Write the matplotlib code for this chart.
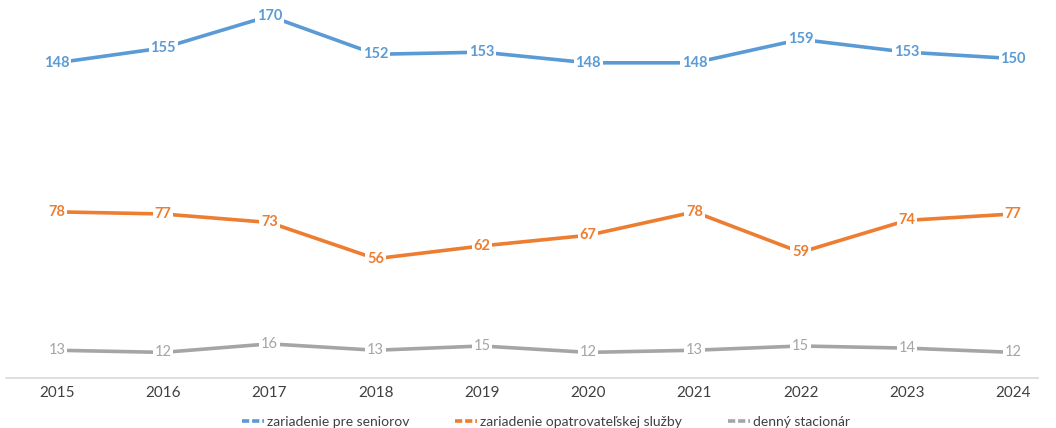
import matplotlib.pyplot as plt
from matplotlib.lines import Line2D

plt.rcParams['font.family'] = ['Lato', 'DejaVu Sans']

years = ['2015', '2016', '2017', '2018', '2019', '2020', '2021', '2022', '2023', '2024']
seniori = [148, 155, 170, 152, 153, 148, 148, 159, 153, 150]
opatrovatelske = [78, 77, 73, 56, 62, 67, 78, 59, 74, 77]
stacionar = [13, 12, 16, 13, 15, 12, 13, 15, 14, 12]

series = [
    ('zariadenie pre seniorov', seniori, '#5b9bd5', 'bold'),
    ('zariadenie opatrovateľskej služby', opatrovatelske, '#ed7d31', 'bold'),
    ('denný stacionár', stacionar, '#a5a5a5', 'normal'),
]

fig = plt.figure(figsize=(10.56, 4.28), dpi=100)
ax = fig.add_axes([6 / 1056, 0.117, 1032 / 1056, 0.883])

x = list(range(len(years)))
handles = []
for name, vals, color, weight in series:
    ax.plot(x, vals, color=color, linewidth=2.6, solid_capstyle='round', zorder=2)
    for xi, v in zip(x, vals):
        ax.text(xi, v, str(v), ha='center', va='center', fontsize=10.5,
                color=color, fontweight=weight, zorder=3,
                bbox=dict(boxstyle='square,pad=0.12', fc='white', ec='none'))
    handles.append(Line2D([0], [0], color=color, linewidth=2.6, linestyle=(0, (2.0, 0.8))))

ax.set_xlim(-0.48, 9.235)
ax.set_ylim(0, 177.5)
ax.set_xticks(x)
ax.set_xticklabels(years, fontsize=11, color='#404040')
ax.tick_params(axis='x', length=0, pad=6)
ax.set_yticks([])
for s in ['top', 'left', 'right']:
    ax.spines[s].set_visible(False)
ax.spines['bottom'].set_color('#d9d9d9')
ax.spines['bottom'].set_linewidth(1.2)

fig.legend(handles, [s[0] for s in series], loc='lower center', ncol=3,
           bbox_to_anchor=(0.517, -0.022), frameon=False, fontsize=10,
           borderpad=0.2, handlelength=1.6, handletextpad=0.2, columnspacing=3.3,
           labelcolor='#404040')

fig.savefig('out.png', dpi=100)
